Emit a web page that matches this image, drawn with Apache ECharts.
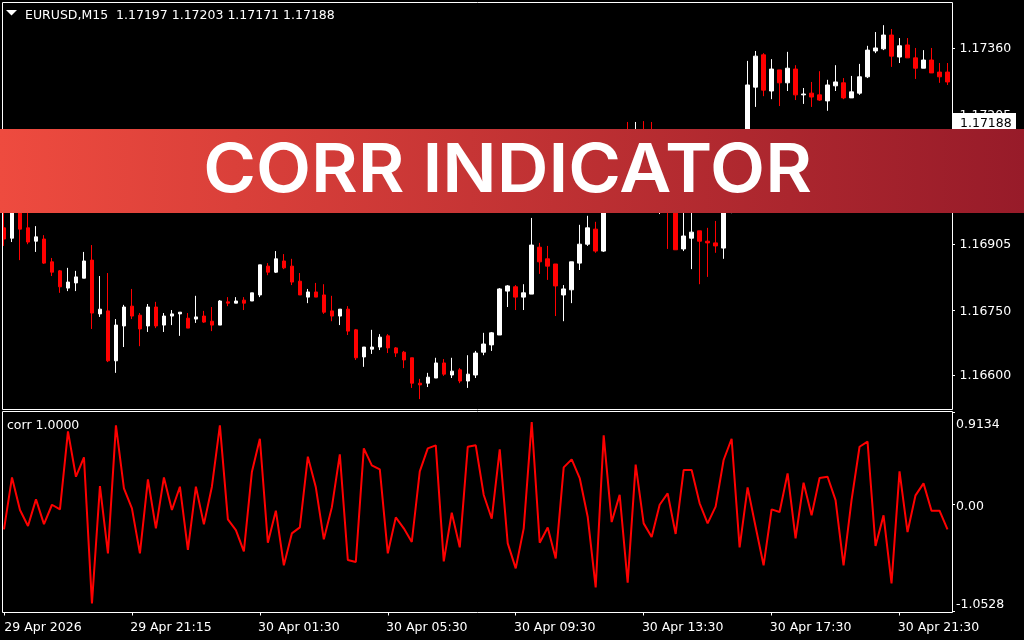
<!DOCTYPE html>
<html><head><meta charset="utf-8">
<style>html,body{margin:0;padding:0;background:#000}#c{width:1024px;height:640px}</style>
<script src="https://cdn.jsdelivr.net/npm/echarts@6/dist/echarts.min.js"></script>
</head><body><div id="c"></div>
<script>
const opens=[1.16942,1.16918,1.16995,1.16942,1.16911,1.16916,1.16863,1.16842,1.16802,1.16814,1.16825,1.16867,1.16742,1.16749,1.16633,1.16714,1.16760,1.16739,1.16714,1.16758,1.16716,1.16737,1.16742,1.16732,1.16730,1.16737,1.16725,1.16716,1.16770,1.16767,1.16774,1.16772,1.16786,1.16853,1.16839,1.16865,1.16853,1.16818,1.16781,1.16793,1.16786,1.16749,1.16737,1.16753,1.16705,1.16642,1.16660,1.16665,1.16691,1.16663,1.16653,1.16640,1.16581,1.16581,1.16593,1.16628,1.16600,1.16612,1.16586,1.16600,1.16653,1.16670,1.16693,1.16795,1.16805,1.16781,1.16788,1.16897,1.16870,1.16858,1.16786,1.16798,1.16860,1.16904,1.16939,1.16888,1.17053,1.17088,1.17135,1.17088,1.17146,1.17088,1.17018,1.17042,1.17007,1.16893,1.16918,1.16935,1.16911,1.16907,1.16895,1.17007,1.17065,1.17123,1.17269,1.17344,1.17260,1.17309,1.17279,1.17311,1.17251,1.17255,1.17251,1.17237,1.17272,1.17279,1.17244,1.17255,1.17293,1.17353,1.17358,1.17390,1.17339,1.17367,1.17337,1.17313,1.17332,1.17304,1.17304];
const closes=[1.16916,1.16995,1.16939,1.16909,1.16921,1.16860,1.16839,1.16805,1.16816,1.16828,1.16865,1.16744,1.16753,1.16633,1.16716,1.16758,1.16737,1.16707,1.16758,1.16714,1.16737,1.16742,1.16746,1.16709,1.16735,1.16723,1.16716,1.16772,1.16767,1.16772,1.16767,1.16791,1.16856,1.16839,1.16870,1.16849,1.16816,1.16786,1.16793,1.16781,1.16746,1.16737,1.16753,1.16702,1.16640,1.16665,1.16665,1.16688,1.16663,1.16651,1.16635,1.16581,1.16577,1.16595,1.16628,1.16602,1.16609,1.16586,1.16602,1.16651,1.16672,1.16698,1.16800,1.16807,1.16781,1.16791,1.16902,1.16863,1.16853,1.16807,1.16800,1.16863,1.16904,1.16942,1.16888,1.17053,1.17088,1.17123,1.17076,1.17146,1.17076,1.17030,1.17065,1.16995,1.16891,1.16923,1.16932,1.16911,1.16907,1.16900,1.17030,1.17076,1.17146,1.17274,1.17341,1.17262,1.17311,1.17279,1.17313,1.17251,1.17253,1.17246,1.17239,1.17274,1.17281,1.17244,1.17258,1.17293,1.17355,1.17360,1.17390,1.17341,1.17365,1.17337,1.17313,1.17332,1.17302,1.17293,1.17281];
const highs=[1.16979,1.17007,1.17018,1.16995,1.16946,1.16925,1.16872,1.16844,1.16849,1.16842,1.16886,1.16902,1.16830,1.16837,1.16730,1.16763,1.16800,1.16744,1.16765,1.16770,1.16744,1.16751,1.16746,1.16744,1.16784,1.16749,1.16758,1.16774,1.16781,1.16781,1.16781,1.16791,1.16856,1.16860,1.16888,1.16881,1.16870,1.16837,1.16800,1.16814,1.16811,1.16784,1.16753,1.16760,1.16707,1.16665,1.16705,1.16695,1.16695,1.16665,1.16656,1.16640,1.16591,1.16605,1.16640,1.16637,1.16640,1.16616,1.16646,1.16656,1.16698,1.16700,1.16802,1.16809,1.16809,1.16811,1.16965,1.16907,1.16900,1.16858,1.16809,1.16863,1.16949,1.16970,1.16956,1.17076,1.17111,1.17146,1.17188,1.17188,1.17190,1.17188,1.17123,1.17076,1.17030,1.17007,1.17018,1.16935,1.16942,1.16958,1.17053,1.17123,1.17165,1.17330,1.17353,1.17348,1.17334,1.17309,1.17351,1.17320,1.17267,1.17281,1.17306,1.17286,1.17320,1.17290,1.17295,1.17323,1.17365,1.17397,1.17413,1.17404,1.17383,1.17383,1.17360,1.17355,1.17360,1.17325,1.17325];
const lows=[1.16900,1.16909,1.16867,1.16904,1.16886,1.16858,1.16830,1.16791,1.16795,1.16795,1.16825,1.16707,1.16735,1.16630,1.16605,1.16665,1.16730,1.16667,1.16700,1.16709,1.16700,1.16716,1.16691,1.16709,1.16721,1.16721,1.16702,1.16716,1.16760,1.16767,1.16751,1.16772,1.16781,1.16832,1.16837,1.16846,1.16809,1.16786,1.16767,1.16781,1.16742,1.16725,1.16716,1.16693,1.16635,1.16619,1.16649,1.16658,1.16651,1.16642,1.16616,1.16570,1.16544,1.16572,1.16593,1.16598,1.16593,1.16581,1.16570,1.16593,1.16646,1.16656,1.16693,1.16758,1.16751,1.16751,1.16788,1.16835,1.16821,1.16737,1.16725,1.16767,1.16844,1.16900,1.16884,1.16886,1.17042,1.17076,1.17058,1.17076,1.17053,1.17007,1.16974,1.16893,1.16891,1.16888,1.16846,1.16811,1.16828,1.16884,1.16870,1.16976,1.17042,1.17100,1.17223,1.17248,1.17241,1.17225,1.17260,1.17239,1.17230,1.17223,1.17237,1.17214,1.17260,1.17241,1.17244,1.17251,1.17290,1.17348,1.17355,1.17316,1.17325,1.17337,1.17288,1.17313,1.17302,1.17279,1.17274];
const corrValues=[-0.246,0.267,-0.055,-0.213,0.050,-0.194,-0.003,-0.049,0.722,0.274,0.465,-0.977,0.182,-0.483,0.781,0.159,-0.039,-0.483,0.248,-0.236,0.267,-0.055,0.175,-0.450,0.175,-0.197,0.175,0.781,-0.148,-0.253,-0.464,0.320,0.649,-0.378,-0.062,-0.602,-0.286,-0.227,0.472,0.169,-0.345,-0.029,0.495,-0.549,-0.569,0.554,0.386,0.346,-0.483,-0.128,-0.236,-0.371,0.327,0.554,0.584,-0.562,-0.082,-0.424,0.570,0.584,0.093,-0.141,0.544,-0.385,-0.632,-0.236,0.814,-0.378,-0.227,-0.533,0.366,0.445,0.261,-0.121,-0.819,0.682,-0.174,0.096,-0.773,0.393,-0.187,-0.322,-0.003,0.109,-0.292,0.340,0.340,0.011,-0.187,-0.022,0.439,0.649,-0.424,0.169,-0.220,-0.602,-0.049,-0.075,0.307,-0.335,0.215,-0.108,0.261,0.274,0.043,-0.602,0.043,0.570,0.620,-0.411,-0.108,-0.780,0.327,-0.273,0.090,0.208,-0.062,-0.062,-0.246];
const timeLabels=['29 Apr 2026','29 Apr 21:15','30 Apr 01:30','30 Apr 05:30','30 Apr 09:30','30 Apr 13:30','30 Apr 17:30','30 Apr 21:30'];
const priceTicks=[1.166,1.1675,1.16905,1.17205,1.1736];
const corrTicks=[-1.0528,0,0.9134];
const corrTickText={'-1.0528':'{b|-1.0528}','0':'{m|0.00}','0.9134':'{t|0.9134}'};
const headerText='EURUSD,M15  1.17197 1.17203 1.17171 1.17188';
const corrText='corr 1.0000';
const currentPrice='1.17188';
const bannerText='CORR INDICATOR';

const categories=opens.map((_,i)=>i%16===0?timeLabels[i/16]:'b'+i);
const candles=opens.map((o,i)=>[o,closes[i],lows[i],highs[i]]);
const FONT='"DejaVu Sans",sans-serif';
const tok=(pad)=>({color:'#fff',fontFamily:FONT,fontSize:12.5,padding:[pad,0,0,0]});
const chart=echarts.init(document.getElementById('c'),null,{renderer:'canvas'});
const frame=(x,y,w,h)=>({type:'rect',z:20,silent:true,shape:{x,y,width:w,height:h},style:{fill:null,stroke:'#fff',lineWidth:1}});
chart.setOption({
  backgroundColor:'#000',animation:false,
  grid:[
    {left:-0.5,width:952,top:3,height:406},
    {left:-0.5,width:952,top:412,height:199}
  ],
  xAxis:[
    {type:'category',gridIndex:0,data:categories,boundaryGap:true,show:false},
    {type:'category',gridIndex:1,data:categories,boundaryGap:true,offset:1.5,position:'bottom',
     axisLine:{show:false,onZero:false},
     axisTick:{show:true,alignWithLabel:true,interval:15,length:3,lineStyle:{color:'#fff'}},
     axisLabel:{interval:15,color:'#fff',fontFamily:FONT,fontSize:12.5,align:'center',padding:[0,0,0,78],margin:9,hideOverlap:false,formatter:v=>v}}
  ],
  yAxis:[
    {type:'value',gridIndex:0,position:'right',offset:0.5,min:1.16521,max:1.174645,splitLine:{show:false},
     axisLine:{show:false},
     axisTick:{show:true,length:3,customValues:priceTicks,lineStyle:{color:'#fff'}},
     axisLabel:{customValues:priceTicks,color:'#fff',fontFamily:FONT,fontSize:12.5,margin:7.5,formatter:v=>'{p|'+v.toFixed(5)+'}',rich:{p:tok(2)}}},
    {type:'value',gridIndex:1,position:'right',offset:0.5,min:-1.0528,max:0.9134,splitLine:{show:false},
     axisLine:{show:false},
     axisTick:{show:true,length:3,customValues:corrTicks,lineStyle:{color:'#fff'}},
     axisLabel:{customValues:corrTicks,color:'#fff',fontFamily:FONT,fontSize:12.5,margin:4,
       verticalAlignMaxLabel:'top',verticalAlignMinLabel:'bottom',
       rich:{t:tok(6),m:tok(4),b:tok(0)},
       formatter:v=>corrTickText[String(v)]}}
  ],
  series:[
    {type:'candlestick',xAxisIndex:0,yAxisIndex:0,data:candles,barWidth:4,
     itemStyle:{color:'#fff',color0:'#f00',borderColor:'#fff',borderColor0:'#f00',borderWidth:1}},
    {type:'line',xAxisIndex:1,yAxisIndex:1,data:corrValues,symbol:'none',
     lineStyle:{color:'#f00',width:2}}
  ],
  graphic:[
    frame(2.5,2.5,950,407),
    frame(2.5,411.5,950,201),
    {type:'polygon',z:21,silent:true,shape:{points:[[6,10],[17,10],[11.5,15.5]]},style:{fill:'#fff'}},
    {type:'text',z:21,silent:true,x:25,y:15.5,style:{text:headerText,fill:'#fff',font:'12.5px '+FONT,textVerticalAlign:'middle'}},
    {type:'text',z:21,silent:true,x:7,y:425.5,style:{text:corrText,fill:'#fff',font:'12.5px '+FONT,textVerticalAlign:'middle'}},
    {type:'rect',z:30,silent:true,shape:{x:953,y:113,width:63,height:20},style:{fill:'#fff'}},
    {type:'text',z:31,silent:true,x:960,y:123.5,style:{text:currentPrice,fill:'#000',font:'12.5px '+FONT,textVerticalAlign:'middle'}},
    {type:'rect',z:50,silent:true,shape:{x:0,y:129,width:1024,height:84},
     style:{fill:new echarts.graphic.LinearGradient(0,0,1,0,[{offset:0,color:'#ee4b3f'},{offset:1,color:'#971b29'}])}},
    {type:'text',z:51,silent:true,x:507.5,y:172,scaleX:1.069,style:{text:bannerText,fill:'#fff',font:'600 67px Inter,sans-serif',textAlign:'center',textVerticalAlign:'middle'}}
  ]
});
</script></body></html>
